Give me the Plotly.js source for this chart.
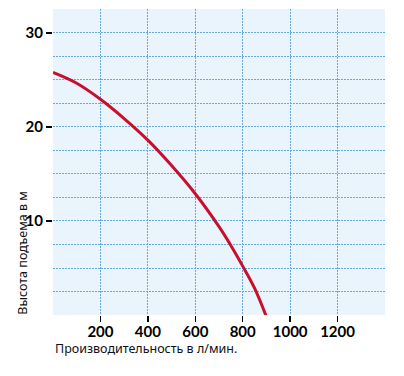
<!DOCTYPE html>
<html>
<head>
<meta charset="utf-8">
<script src="https://cdn.plot.ly/plotly-3.0.1.min.js"></script>
<style>html,body{margin:0;padding:0;background:#fff;}#chart{width:404px;height:376px;}</style>
</head>
<body>
<div id="chart"></div>
<script>
// Data
const flow = [0, 100, 200, 300, 400, 500, 600, 700, 750, 800, 850, 900];
const head = [25.8, 24.65, 22.95, 20.9, 18.6, 15.9, 12.9, 9.4, 7.4, 5.2, 2.85, -0.2];
const xTickVals = [200, 400, 600, 800, 1000, 1200];
const yTickVals = [10, 20, 30];
const xTitle = 'Производительность в л/мин.';
const yTitle = 'Высота подъема в м';

const gridColor = '#66abe0';
const trace = {
  x: flow, y: head, type: 'scatter', mode: 'lines',
  line: {color: '#c8102e', width: 3, shape: 'spline', smoothing: 1},
  hoverinfo: 'skip'
};
const layout = {
  width: 404, height: 376,
  margin: {l: 53, r: 19, t: 9, b: 61},
  paper_bgcolor: '#ffffff', plot_bgcolor: '#eaf4fc',
  showlegend: false,
  font: {family: 'Lato, "Noto Sans", sans-serif', color: '#111'},
  xaxis: {
    range: [0, 1400], tickvals: xTickVals, ticktext: xTickVals.map(String),
    ticks: 'outside', ticklen: 6, tickwidth: 1.5, tickcolor: '#000',
    ticklabelstandoff: -3,
    showgrid: true, gridcolor: gridColor, griddash: '2px,1px', gridwidth: 1,
    zeroline: false, showline: false,
    tickfont: {family: 'Lato, sans-serif', size: 15, color: '#000', weight: 'bold'}
  },
  yaxis: {
    range: [0, 32.55], tickvals: yTickVals, ticktext: yTickVals.map(String),
    ticks: 'outside', ticklen: 6, tickwidth: 1.5, tickcolor: '#000',
    showgrid: true, gridcolor: gridColor, griddash: '2px,1px', gridwidth: 1,
    minor: {dtick: 2.5, tick0: 0, showgrid: true, gridcolor: gridColor, griddash: '2px,1px', gridwidth: 1, ticks: ''},
    zeroline: false, showline: false,
    tickfont: {family: 'Lato, sans-serif', size: 15, color: '#000', weight: 'bold'}
  },
  annotations: [
    {text: xTitle, xref: 'paper', yref: 'paper', x: 0, y: -0.11, xanchor: 'left', yanchor: 'middle',
     showarrow: false, font: {family: '"Noto Sans", sans-serif', size: 12.5, color: '#111'}},
    {text: yTitle, xref: 'paper', yref: 'paper', x: -0.093, y: -0.005, xanchor: 'center', yanchor: 'bottom',
     textangle: -90, showarrow: false, font: {family: '"Noto Sans", sans-serif', size: 12.5, color: '#111'}}
  ]
};
Plotly.newPlot('chart', [trace], layout, {displayModeBar: false, staticPlot: true});
</script>
</body>
</html>
